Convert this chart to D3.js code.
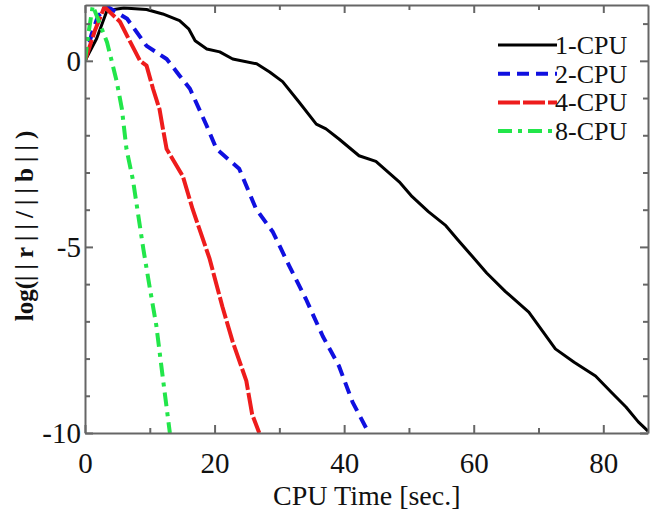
<!DOCTYPE html>
<html>
<head>
<meta charset="utf-8">
<script src="https://cdn.jsdelivr.net/npm/d3@7"></script>
<style>
  body { margin: 0; background: #fff; }
  svg text { font-family: "Liberation Serif", "Times New Roman", serif; fill: #111; }
</style>
</head>
<body>
<div id="chart"></div>
<script>
// values (CPU time in sec, log residual)
var cpu1Time = [0, 1.8, 3.4, 6, 9.5, 12, 14.6, 16, 17, 18.8, 20.8, 22.8, 26.5, 28.5, 30.5, 33, 35.7, 37.2, 39.2, 42.3, 44.9, 48.5, 50.5, 53, 55.7, 57.5, 59.7, 62, 64.9, 68.5, 72.6, 75.5, 78.8, 81.2, 83.5, 85.4, 86.9];
var cpu1Log  = [0, 0.6, 1.35, 1.42, 1.38, 1.26, 1.08, 0.86, 0.54, 0.32, 0.24, 0.05, -0.08, -0.3, -0.56, -1.1, -1.7, -1.83, -2.1, -2.55, -2.7, -3.25, -3.65, -4.05, -4.43, -4.8, -5.24, -5.7, -6.2, -6.75, -7.74, -8.1, -8.47, -8.9, -9.3, -9.7, -9.95];

var cpu2Time = [0, 1, 2, 3.5, 6.5, 9.5, 12.6, 14.6, 16.2, 18.8, 20.3, 23.8, 26.4, 29, 31.5, 34.1, 36.7, 39.2, 41.3, 43.8];
var cpu2Log  = [0, 0.7, 1.2, 1.45, 1.13, 0.4, 0.05, -0.4, -0.75, -1.75, -2.37, -2.9, -3.98, -4.6, -5.5, -6.4, -7.4, -8.2, -9.17, -10];

var cpu4Time = [0, 1.5, 3, 5.4, 7, 8.5, 9.5, 10.5, 11.5, 12, 12.6, 15.1, 16.6, 19.2, 21.2, 22.8, 24.9, 25.8, 26.9];
var cpu4Log  = [0, 0.8, 1.45, 1.05, 0.5, 0, -0.13, -0.75, -1.3, -1.8, -2.37, -3.1, -3.98, -5.3, -6.6, -7.55, -8.6, -9.5, -10];

var cpu8Time = [0, 0.5, 1.2, 3.4, 4.3, 4.9, 5.7, 6.4, 7.4, 9, 10, 11, 12, 13.1];
var cpu8Log  = [0, 0.7, 1.48, 0.5, -0.13, -0.56, -1.3, -2.37, -3.2, -5.05, -6.1, -7.1, -8.5, -10];

var seriesNames = ['1-CPU', '2-CPU', '4-CPU', '8-CPU'];
var xTicks = [0, 20, 40, 60, 80];
var yTicks = [-10, -5, 0];

var series = [
  {name: seriesNames[0], t: cpu1Time, v: cpu1Log, color: '#000000', dash: null, w: 3},
  {name: seriesNames[1], t: cpu2Time, v: cpu2Log, color: '#1010e0', dash: '12,7', w: 4},
  {name: seriesNames[2], t: cpu4Time, v: cpu4Log, color: '#ee1c1c', dash: '22,3', w: 4},
  {name: seriesNames[3], t: cpu8Time, v: cpu8Log, color: '#22e64a', dash: '14,6,4,6', w: 4}
];

var margin = {top: 5, right: 2, bottom: 84, left: 85};
var width = 650 - margin.left - margin.right;
var height = 517 - margin.top - margin.bottom;

var plainNum = (d) => String(d); // hyphen minus, like the original

var svg = d3.select('#chart').append('svg')
  .attr('width', 650)
  .attr('height', 517);

var g = svg.append('g')
  .attr('transform', 'translate(' + margin.left + ',' + margin.top + ')');

var x = d3.scaleLinear().domain([0, 86.9]).range([0, width]);
var y = d3.scaleLinear().domain([-10, 1.5]).range([height, 0]);

var line = d3.line()
  .x((d) => x(d[0]))
  .y((d) => y(d[1]));

g.append('clipPath').attr('id', 'plot-clip')
  .append('rect').attr('width', width).attr('height', height);

var lines = g.append('g').attr('clip-path', 'url(#plot-clip)');
series.forEach((s) => {
  var pts = s.t.map((t, i) => [t, s.v[i]]);
  lines.append('path')
    .attr('d', line(pts))
    .attr('fill', 'none')
    .attr('stroke', s.color)
    .attr('stroke-width', s.w)
    .attr('stroke-dasharray', s.dash)
    .attr('stroke-linejoin', 'round');
});

// axes: ticks point inward, frame on all sides
var minorX = d3.range(10, 90, 20);
var minorY = d3.range(-9, 2, 1).filter((d) => d !== -5 && d !== 0);

function styleAxis(sel) {
  sel.selectAll('path, line').attr('stroke', '#666').attr('stroke-width', 2);
  sel.selectAll('text')
    .style('font-family', '"Liberation Serif", "Times New Roman", serif')
    .style('font-size', '29px')
    .attr('fill', '#222');
}

var bottomAxis = g.append('g').attr('transform', 'translate(0,' + height + ')')
  .call(d3.axisBottom(x).tickValues(xTicks).tickSize(-8).tickSizeOuter(0).tickPadding(14).tickFormat(plainNum));
bottomAxis.call(styleAxis);
bottomAxis.selectAll('text').attr('dy', '0.9em');
g.append('g').attr('transform', 'translate(0,' + height + ')')
  .call(d3.axisBottom(x).tickValues(minorX).tickSize(-5).tickSizeOuter(0).tickFormat(''))
  .call(styleAxis).select('.domain').remove();

var topAxis = g.append('g')
  .call(d3.axisTop(x).tickValues(xTicks).tickSize(-8).tickSizeOuter(0).tickFormat(''));
topAxis.call(styleAxis);
g.append('g')
  .call(d3.axisTop(x).tickValues(minorX).tickSize(-5).tickSizeOuter(0).tickFormat(''))
  .call(styleAxis).select('.domain').remove();

var leftAxis = g.append('g')
  .call(d3.axisLeft(y).tickValues(yTicks).tickSize(-8).tickSizeOuter(0).tickPadding(4).tickFormat(plainNum));
leftAxis.call(styleAxis);
g.append('g')
  .call(d3.axisLeft(y).tickValues(minorY).tickSize(-5).tickSizeOuter(0).tickFormat(''))
  .call(styleAxis).select('.domain').remove();

var rightAxis = g.append('g').attr('transform', 'translate(' + width + ',0)')
  .call(d3.axisRight(y).tickValues(yTicks).tickSize(-8).tickSizeOuter(0).tickFormat(''));
rightAxis.call(styleAxis);
g.append('g').attr('transform', 'translate(' + width + ',0)')
  .call(d3.axisRight(y).tickValues(minorY).tickSize(-5).tickSizeOuter(0).tickFormat(''))
  .call(styleAxis).select('.domain').remove();

// axis titles
svg.append('text')
  .attr('x', margin.left + x(43.5))
  .attr('y', 505)
  .attr('text-anchor', 'middle')
  .style('font-size', '28px')
  .text('CPU Time [sec.]');

var ylab = svg.append('text')
  .attr('transform', 'translate(33,223) rotate(-90)')
  .attr('text-anchor', 'middle')
  .style('font-size', '25px')
  .style('font-weight', 'bold');
ylab.append('tspan').text('log(');
ylab.append('tspan').style('letter-spacing', '6px').text('||r||/||b||)');

// legend
var legend = svg.append('g').attr('transform', 'translate(498,45)');
series.forEach((s, i) => {
  var row = legend.append('g').attr('transform', 'translate(0,' + (i * 28.7) + ')');
  row.append('rect').attr('x', -2).attr('y', -13).attr('width', 142).attr('height', 26).attr('fill', '#fff');
  row.append('line')
    .attr('x1', 0).attr('x2', 59).attr('y1', 0).attr('y2', 0)
    .attr('stroke', s.color)
    .attr('stroke-width', s.w)
    .attr('stroke-dasharray', s.dash);
  row.append('text')
    .attr('x', 57)
    .attr('y', 9)
    .style('font-size', '26px')
    .text(s.name);
});
</script>
</body>
</html>
